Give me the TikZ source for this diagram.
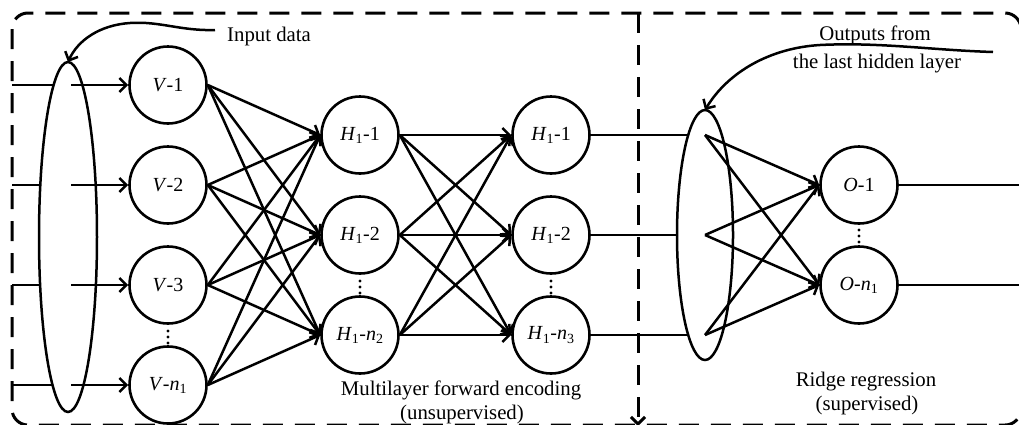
\documentclass[tikz,border=0pt]{standalone}
\usepackage{fontspec}
\setmainfont{Liberation Serif}
\usetikzlibrary{arrows.meta,shapes.geometric}

\begin{document}
\begin{tikzpicture}[x=1pt,y=-1pt,
  neuron/.style={circle,draw,line width=2.6pt,minimum size=77pt,inner sep=0pt,
                 font=\fontsize{20}{24}\selectfont},
  bundle/.style={ellipse,draw,line width=2.5pt,inner sep=0pt,outer sep=0pt},
  link/.style={line width=2.5pt},
  feed/.style={link,-{Straight Barb[length=7pt,width=14pt]}},
  frame/.style={line width=3pt,dash pattern=on 20pt off 12pt},
  caption/.style={font=\fontsize{20.8}{25}\selectfont,inner sep=0pt,anchor=base}
]
\useasboundingbox (0,0) rectangle (1019,424);

% outer dashed frame and the divider between the two stages
\draw[frame,rounded corners=16pt] (12,13) rectangle (1021,425);
\draw[frame,-{Straight Barb[length=7pt,width=14pt]}] (638,13) -- (638,426);

% input bundle and visible layer
\node[bundle,minimum width=58pt,minimum height=350pt] (inell) at (68,237) {};
\node[neuron] (V1) at (168,85)  {\textit{V}-1};
\node[neuron] (V2) at (168,185) {\textit{V}-2};
\node[neuron] (V3) at (168,285) {\textit{V}-3};
\node[neuron] (Vn) at (168,385) {\textit{V}-\textit{n}\textsubscript{1}};

% first and second hidden layers
\node[neuron] (A1) at (360,135) {\textit{H}\textsubscript{1}-1};
\node[neuron] (A2) at (360,235) {\textit{H}\textsubscript{1}-2};
\node[neuron] (An) at (360,335) {\textit{H}\textsubscript{1}-\textit{n}\textsubscript{2}};
\node[neuron] (B1) at (551,135) {\textit{H}\textsubscript{1}-1};
\node[neuron] (B2) at (551,235) {\textit{H}\textsubscript{1}-2};
\node[neuron] (Bn) at (551,335) {\textit{H}\textsubscript{1}-\textit{n}\textsubscript{3}};

% hidden-output bundle and output layer
\node[bundle,minimum width=56pt,minimum height=250pt] (outell) at (705,235) {};
\node[neuron] (O1) at (859,185) {\textit{O}-1};
\node[neuron] (On) at (859,285) {\textit{O}-\textit{n}\textsubscript{1}};

% input lines: frame edge -> bundle, bundle -> visible units
\foreach \n/\y/\xe in {V1/85/53.6, V2/185/40.3, V3/285/40.1, Vn/385/52.5}{
  \coordinate (s\n) at (12,\y);
  \coordinate (e\n) at (\xe,\y);
  \coordinate (m\n) at (71,\y);
  \draw[link] (s\n) -- (e\n);
  \draw[feed] (m\n) -- (\n.west);
}

% fully connected encoding layers
\foreach \a in {V1,V2,V3,Vn}
  \foreach \b in {A1,A2,An}
    \draw[feed] (\a.east) -- (\b.west);
\foreach \a in {A1,A2,An}
  \foreach \b in {B1,B2,Bn}
    \draw[feed] (\a.east) -- (\b.west);

% last hidden layer into the bundle
\coordinate (r1) at (688.2,135);
\coordinate (r2) at (677,235);
\coordinate (r3) at (688.2,335);
\draw[link] (B1.east) -- (r1);
\draw[link] (B2.east) -- (r2);
\draw[link] (Bn.east) -- (r3);

% ridge regression links
\coordinate (p1) at (705,135);
\coordinate (p2) at (705,235);
\coordinate (p3) at (705,335);
\foreach \p in {p1,p2,p3}
  \foreach \o in {O1,On}
    \draw[feed] (\p) -- (\o.west);

% outputs
\coordinate (x1) at (1025,185);
\coordinate (x2) at (1025,285);
\draw[link] (O1.east) -- (x1);
\draw[link] (On.east) -- (x2);

% vertical ellipsis dots
\foreach \x/\y in {168/331, 360/281, 551/281, 859/230}{
  \foreach \k in {0,6,12} \fill (\x,\y+\k) circle (1.6pt);
}

% annotations
\node[caption,anchor=base west] (inlab) at (227,41.5) {Input data};
\coordinate (intail) at (215,30);
\draw[feed] (intail) .. controls (180,31) and (160,21) .. (130,23)
            .. controls (100,25) and (78,40) .. (inell.north);

\node[caption] (olab1) at (875,40) {Outputs from};
\node[caption] (olab2) at (877,68) {the last hidden layer};
\coordinate (outtail) at (993,52);
\draw[feed] (outtail) .. controls (930,50) and (880,42) .. (820,45)
            .. controls (770,48) and (728,72) .. (outell.north);

\node[caption] (enc1) at (461,395) {Multilayer forward encoding};
\node[caption] (enc2) at (462,419) {(unsupervised)};
\node[caption] (rr1) at (866,386) {Ridge regression};
\node[caption] (rr2) at (867,410) {(supervised)};
\end{tikzpicture}
\end{document}
